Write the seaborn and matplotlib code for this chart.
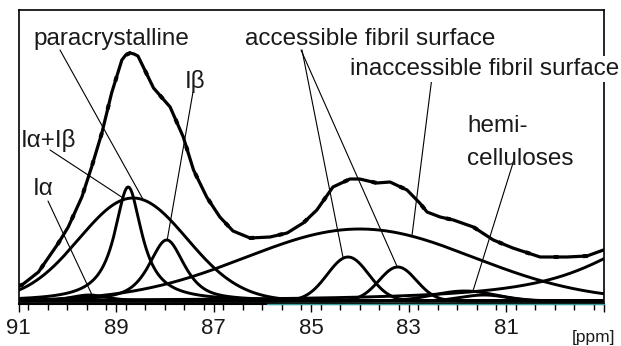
import numpy as np
import pandas as pd
import matplotlib
matplotlib.use("Agg")
import matplotlib.pyplot as plt
import seaborn as sns

# ---------------- data ----------------
# deconvolution components: peak centre [ppm], height, FWHM [ppm], Lorentzian fraction
components = ["Iα", "Iα+Iβ", "paracrystalline", "Iβ",
              "inaccessible fibril surface", "accessible fibril surface (1)",
              "accessible fibril surface (2)", "hemicelluloses (1)",
              "hemicelluloses (2)", "hemicelluloses (3)"]
centers = [89.55, 88.75, 88.65, 87.96, 84.0, 84.24, 83.22, 81.85, 81.45, 78.0]
heights = [6, 114, 103, 61, 72, 44, 34, 10, 6, 58.5]
fwhms = [0.9, 0.68, 2.6, 0.86, 5.5, 1.0, 0.9, 1.5, 1.1, 3.2]
lorentz_frac = [0.5, 1.0, 0.0, 0.7, 0.0, 0.0, 0.0, 0.0, 0.0, 1.0]

spectrum_ppm = [91.0, 90.93, 90.59, 90.18, 89.98, 89.70, 89.50, 89.29, 89.09, 88.88,
                88.80, 88.71, 88.63, 88.55, 88.23, 87.89, 87.62, 87.41, 87.14, 86.87,
                86.60, 86.25, 85.84, 85.49, 85.16, 84.88, 84.55, 84.20, 84.00, 83.65,
                83.38, 83.03, 82.77, 82.62, 82.35, 82.08, 81.67, 81.26, 80.86, 80.30,
                79.75, 79.34, 79.0]
spectrum_int = [15, 16, 29, 58, 74, 104, 134, 168, 208, 241,
                246, 248, 247, 245, 213, 194, 164, 131, 104, 84,
                70, 63, 64, 68, 78, 91, 114, 122, 122, 118,
                119, 111, 98, 89, 84, 81, 74, 61, 53, 44,
                44, 45, 51]

xticks = [91, 89, 87, 85, 83, 81, 79]
xticklabels = ["91", "89", "87", "85", "83", "81", ""]

# labels: text, left x [px], baseline y [px]
label_texts = ["paracrystalline", "accessible fibril surface", "inaccessible fibril surface",
               "hemi-", "celluloses", "Iβ", "Iα+Iβ", "Iα"]
label_x = [33, 245, 350, 467, 467, 185, 21, 33]
label_y = [45, 45, 75, 132, 165, 88, 147, 195]
# leader lines: start [px] -> component index and ppm where they touch
leader_start_x = [60, 302, 301, 432, 513, 193, 50, 48]
leader_start_y = [50, 50, 50, 77, 163, 92, 150, 201]
leader_comp = [2, 5, 6, 4, 7, 3, 1, 0]
leader_ppm = [88.44, 84.34, 83.23, 82.93, 81.68, 87.95, 88.86, 89.49]

# ---------------- build curves ----------------
W, H = 621, 346
ppm = np.linspace(79, 91, 1200)


def pvoigt(x, c, h, w, eta):
    g = np.exp(-4 * np.log(2) * ((x - c) / w) ** 2)
    l = 1.0 / (1.0 + ((x - c) / (w / 2)) ** 2)
    return h * (eta * l + (1 - eta) * g)


rows = []
for name, c, h, w, e in zip(components, centers, heights, fwhms, lorentz_frac):
    rows.append(pd.DataFrame({"ppm": ppm, "intensity": pvoigt(ppm, c, h, w, e),
                              "component": name}))
comp_df = pd.concat(rows, ignore_index=True)
spec_df = pd.DataFrame({"ppm": spectrum_ppm, "intensity": spectrum_int})

# ---------------- plot ----------------
sns.set_style("white")
plt.rcParams["font.family"] = ["Liberation Sans", "DejaVu Sans"]

fig = plt.figure(figsize=(W / 100, H / 100), dpi=100)
ax_left, ax_top, ax_right, ax_bottom = 18.5, 10, 603.5, 304
ax = fig.add_axes([ax_left / W, (H - ax_bottom) / H,
                   (ax_right - ax_left) / W, (ax_bottom - ax_top) / H])

lw = 2.1
sns.lineplot(data=comp_df, x="ppm", y="intensity", units="component", estimator=None,
             color="black", lw=lw, ax=ax, sort=False)
# fitted envelope (solid) and measured spectrum (dashed)
sns.lineplot(data=spec_df, x="ppm", y="intensity", color="black", lw=lw + 0.2, ax=ax,
             sort=False)
sns.lineplot(data=spec_df, x="ppm", y="intensity", color="black", lw=2.9, ax=ax,
             sort=False, linestyle=(0, (1.2, 6)))

ax.set_xlim(91, 79)
ax.set_ylim(-3, 291)
ax.set_xlabel("")
ax.set_ylabel("")
ax.set_yticks([])
ax.set_xticks(xticks)
ax.set_xticklabels(xticklabels, fontsize=16, color="#1a1a1a")
ax.xaxis.set_minor_locator(matplotlib.ticker.MultipleLocator(0.4))
ax.tick_params(axis="x", which="major", direction="out", length=5.8, width=1,
               pad=4.5, color="black", bottom=True)
ax.tick_params(axis="x", which="minor", direction="out", length=4.3, width=1,
               color="black", bottom=True)
for s in ["left", "right", "top"]:
    ax.spines[s].set_visible(True)
    ax.spines[s].set_color("black")
    ax.spines[s].set_linewidth(1.2)
ax.spines["bottom"].set_color("black")
ax.spines["bottom"].set_linewidth(1.5)
ax.axhline(ax.get_ylim()[0], xmin=(91 - 85.9) / 12, xmax=1, color="#3a9c9c", lw=1.0,
           clip_on=False, zorder=5)

# leader lines
for sx, sy, ci, lp in zip(leader_start_x, leader_start_y, leader_comp, leader_ppm):
    ty = pvoigt(lp, centers[ci], heights[ci], fwhms[ci], lorentz_frac[ci])
    ax.annotate("", xy=(lp, ty), xycoords="data", xytext=(sx, H - sy),
                textcoords="figure pixels",
                arrowprops=dict(arrowstyle="-", lw=0.8, color="black",
                                shrinkA=0, shrinkB=0))

# labels
for t, lx, ly in zip(label_texts, label_x, label_y):
    kw = {}
    if t.startswith("inaccessible"):
        kw["bbox"] = dict(facecolor="white", edgecolor="none", pad=1.5)
    fig.text(lx / W, (H - ly) / H, t, fontsize=17.5, color="#1a1a1a",
             ha="left", va="baseline", **kw)

fig.text(572 / W, (H - 342) / H, "[ppm]", fontsize=12.5, color="#1a1a1a",
         ha="left", va="baseline")

fig.savefig("out.png", dpi=100)
